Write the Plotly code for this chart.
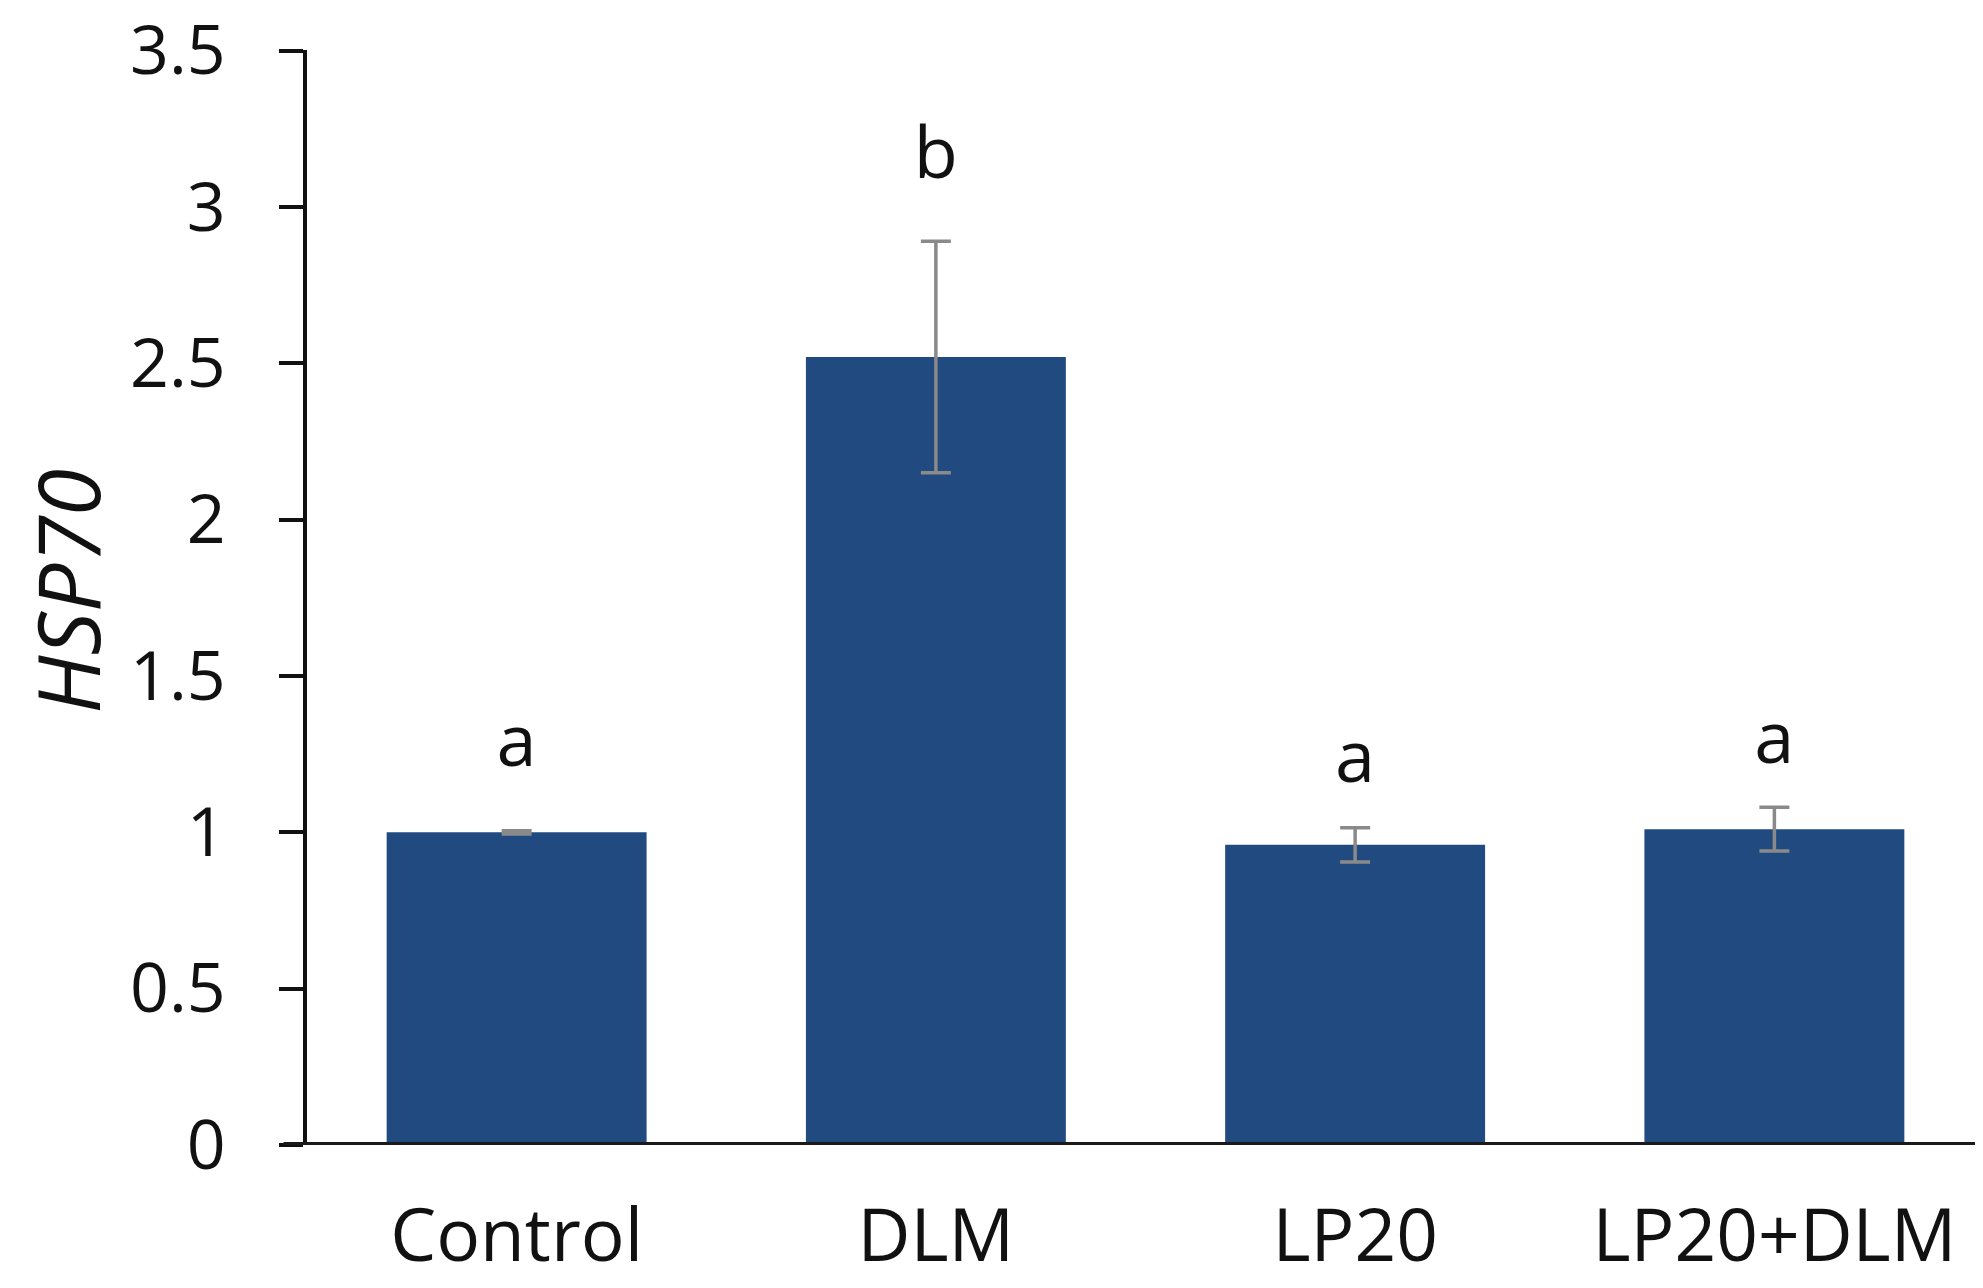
import plotly.graph_objects as go

categories = ["Control", "DLM", "LP20", "LP20+DLM"]
values = [1.00, 2.52, 0.96, 1.01]
errors = [0.005, 0.37, 0.055, 0.07]
letters = ["a", "b", "a", "a"]
letter_y = [1.27, 3.15, 1.22, 1.28]
y_ticks = [0, 0.5, 1, 1.5, 2, 2.5, 3, 3.5]
y_tick_text = ["0", "0.5", "1", "1.5", "2", "2.5", "3", "3.5"]
y_title = "<i>HSP70</i>"

FONT = "Open Sans"
fig = go.Figure()
fig.add_trace(go.Bar(
    x=categories, y=values, width=0.62,
    marker=dict(color="#204a80", line=dict(width=0)),
    error_y=dict(type="data", array=errors, visible=True,
                 color="#8a8a8a", thickness=3.5, width=15),
))
fig.add_trace(go.Scatter(
    x=categories, y=letter_y, mode="text", text=letters,
    textfont=dict(family=FONT, size=72, color="#111111"),
    textposition="middle center", hoverinfo="skip",
))
fig.add_shape(type="line", xref="paper", yref="y", x0=-0.014, x1=1, y0=0, y1=0,
              line=dict(color="#1a1a1a", width=6))
fig.add_annotation(text=y_title, xref="paper", yref="paper", x=-0.1437, y=0.505,
                   xanchor="center", yanchor="middle", textangle=-90,
                   showarrow=False, font=dict(family=FONT, size=86, color="#111111"))
fig.update_layout(
    width=1983, height=1288,
    margin=dict(l=299, r=7, t=42, b=151),
    paper_bgcolor="white", plot_bgcolor="white",
    showlegend=False,
    font=dict(family=FONT, size=72, color="#111111"),
    xaxis=dict(range=[-0.5, 3.5], showline=False, ticks="", showgrid=False,
               tickfont=dict(size=73), ticklabelstandoff=42, zeroline=False,
               automargin=False, ticklabeloverflow="allow"),
    yaxis=dict(range=[0, 3.502], tickvals=y_ticks, ticktext=y_tick_text,
               showline=True, linecolor="#111111", linewidth=3.5,
               ticks="outside", ticklen=24, tickwidth=3.5, tickcolor="#111111",
               showgrid=False, zeroline=False, tickfont=dict(size=68),
               ticklabelstandoff=40, automargin=False, ticklabeloverflow="allow"),
)
fig.write_html("out.html")
